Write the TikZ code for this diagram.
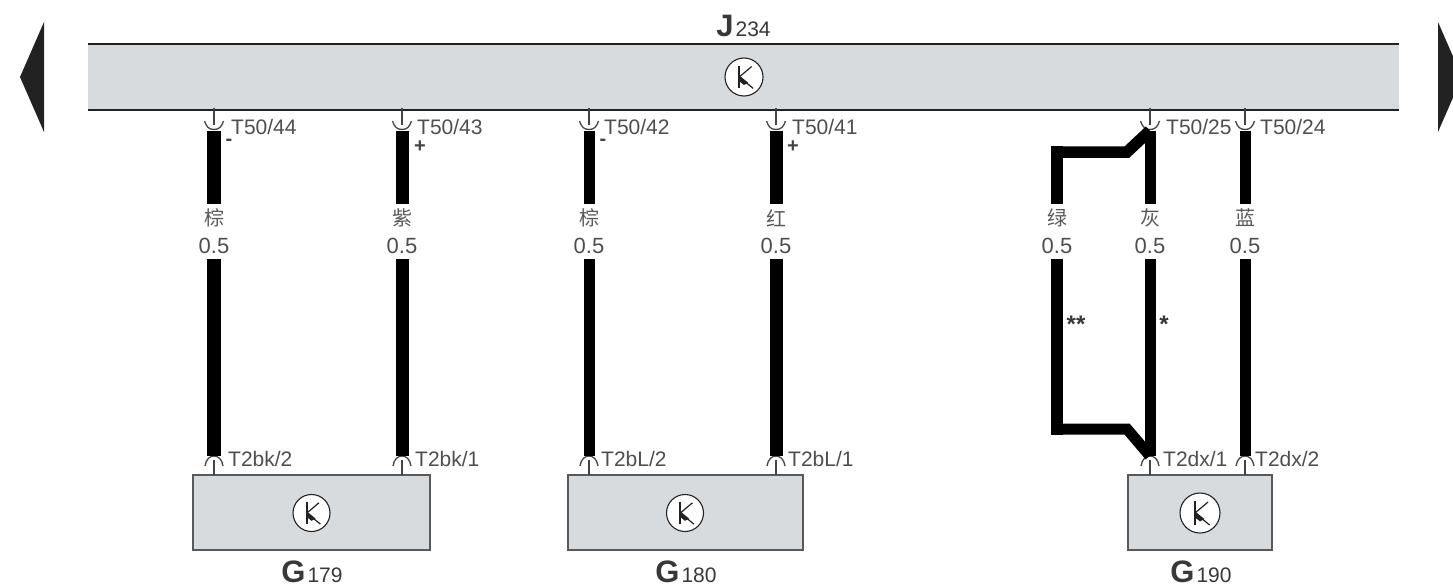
\documentclass[tikz,border=0pt]{standalone}
\usepackage{fontspec}
\setmainfont{Liberation Sans}
\newfontfamily\cjk{Noto Sans CJK SC}
\definecolor{boxgray}{HTML}{D8DBDE}
\definecolor{ink}{HTML}{222222}
\tikzset{
  x=1pt,y=-1pt,
  unitbox/.style={draw=ink!75,line width=2pt,fill=boxgray},
  barline/.style={draw=ink,line width=1.7pt},
  wirea/.style={line width=#1,draw=black},
  pinline/.style={draw=ink!85,line width=1.3pt},
  pinlabel/.style={font=\fontsize{21}{21}\selectfont,text=ink!80,anchor=west,inner sep=0pt},
  colorlabel/.style={font=\cjk\fontsize{20}{20}\selectfont,text=ink!75,inner sep=0pt},
  sizelabel/.style={font=\fontsize{22}{22}\selectfont,text=ink!80,inner sep=0pt},
  signlabel/.style={font=\fontsize{20}{20}\selectfont\bfseries,text=ink!85,inner sep=0pt},
  starlabel/.style={font=\fontsize{24}{24}\selectfont\bfseries,text=ink!90,inner sep=0pt},
  bigname/.style={font=\fontsize{31}{31}\selectfont\bfseries,text=ink!90,inner sep=0pt},
  pt/.style={inner sep=0pt,minimum size=0pt},
  pics/sensor/.style={code={
    \draw[ink,line width=1.1pt,fill=white] (0,0) circle (#1);
    \draw[ink,line width=1.8pt] (-0.25*#1,-0.58*#1) -- (-0.25*#1,0.58*#1);
    \draw[ink,line width=1.2pt] (-0.25*#1,0) -- (0.40*#1,-0.55*#1);
    \draw[ink,line width=1.2pt] (-0.25*#1,0) -- (0.48*#1,0.60*#1);
    \fill[ink] (-0.25*#1,-0.08*#1) -- (0.22*#1,0.30*#1) -- (0.0*#1,0.42*#1) -- (-0.25*#1,0.22*#1) -- cycle;
  }},
}
\newcommand{\toppin}[2]{%
  \node[pt] (t#1) at (#2,130.5) {};
  \draw[pinline] (#2,108) -- (#2,125);
  \draw[pinline] (#2-9.5,121) .. controls (#2-7.5,127) and (#2-5,129.5) .. (#2,129.5) .. controls (#2+5,129.5) and (#2+7.5,127) .. (#2+9.5,121);
}
\newcommand{\botpin}[2]{%
  \node[pt] (b#1) at (#2,456) {};
  \draw[pinline] (#2,460) -- (#2,475);
  \draw[pinline] (#2-9,466) .. controls (#2-8,459) and (#2-4,456) .. (#2,456) .. controls (#2+4,456) and (#2+8,459) .. (#2+9,466);
}
\begin{document}
\begin{tikzpicture}
\useasboundingbox (0,0) rectangle (1453,587);
\clip (0,0) rectangle (1453,587);

% side arrows
\fill[ink] (44,22) -- (20,77) -- (44,132) -- cycle;
\fill[ink] (1438,22) -- (1462,77) -- (1438,132) -- cycle;

% main unit
\fill[boxgray] (88,44) rectangle (1399,110);
\draw[barline] (88,44) -- (1399,44);
\draw[barline] (88,110) -- (1399,110);
\node[bigname,anchor=base] (jname) at (743.5,36) {J\hspace{2pt}\fontsize{21}{21}\selectfont\mdseries 234};
\pic at (744,77) {sensor=19};

% sensor units
\node[unitbox,minimum width=237pt,minimum height=75pt,inner sep=0pt] (g179) at (311.5,512.5) {};
\node[unitbox,minimum width=235pt,minimum height=75pt,inner sep=0pt] (g180) at (685.5,512.5) {};
\node[unitbox,minimum width=144pt,minimum height=75pt,inner sep=0pt] (g190) at (1200,512.5) {};
\pic at (311.5,513) {sensor=18.5};
\pic at (685,513) {sensor=18.5};
\pic at (1200,513) {sensor=20};

\node[bigname,anchor=base] (n179) at (312,582) {G\hspace{2pt}\fontsize{21}{21}\selectfont\mdseries 179};
\node[bigname,anchor=base] (n180) at (686,582) {G\hspace{2pt}\fontsize{21}{21}\selectfont\mdseries 180};
\node[bigname,anchor=base] (n190) at (1201,582) {G\hspace{2pt}\fontsize{21}{21}\selectfont\mdseries 190};

% pins
\toppin{a}{214} \toppin{b}{402} \toppin{c}{589} \toppin{d}{776} \toppin{e}{1150} \toppin{f}{1245}
\botpin{a}{214} \botpin{b}{402} \botpin{c}{589} \botpin{d}{776} \botpin{e}{1150} \botpin{f}{1245}

% wire labels (mid nodes)
\node[colorlabel] (ca) at (214,218) {棕};
\node[colorlabel] (cb) at (402,218) {紫};
\node[colorlabel] (cc) at (589,218) {棕};
\node[colorlabel] (cd) at (776,218) {红};
\node[colorlabel] (cg) at (1057,218) {绿};
\node[colorlabel] (ce) at (1150,218) {灰};
\node[colorlabel] (cf) at (1245,218) {蓝};
\node[sizelabel] (sa) at (214,246) {0.5};
\node[sizelabel] (sb) at (402,246) {0.5};
\node[sizelabel] (sc) at (589,246) {0.5};
\node[sizelabel] (sd) at (776,246) {0.5};
\node[sizelabel] (sg) at (1057,246) {0.5};
\node[sizelabel] (se) at (1150,246) {0.5};
\node[sizelabel] (sf) at (1245,246) {0.5};

% wires
\coordinate (ca1) at (214,204); \coordinate (sa1) at (214,259);
\coordinate (cb1) at (402,204); \coordinate (sb1) at (402,259);
\coordinate (cc1) at (589,204); \coordinate (sc1) at (589,259);
\coordinate (cd1) at (776,204); \coordinate (sd1) at (776,259);
\coordinate (ce1) at (1150,204); \coordinate (se1) at (1150,259);
\coordinate (cf1) at (1245,204); \coordinate (sf1) at (1245,259);
\coordinate (cg1) at (1057,204); \coordinate (sg1) at (1057,259);
\draw[wirea=13.5pt] (ta) -- (ca1) (sa1) -- (ba);
\draw[wirea=13pt] (tb) -- (cb1) (sb1) -- (bb);
\draw[wirea=11pt] (tc) -- (cc1) (sc1) -- (bc);
\draw[wirea=13pt] (td) -- (cd1) (sd1) -- (bd);
\draw[wirea=11pt] (te) -- (ce1) (se1) -- (be);
\draw[wirea=11pt] (tf) -- (cf1) (sf1) -- (bf);
\coordinate (upc) at (1057,152);
\coordinate (upk) at (1127,152);
\coordinate (lowc) at (1057,429);
\coordinate (lowk) at (1127,429);
\draw[wirea=11.5pt,line join=miter] (te) -- (upk) -- (upc);
\draw[wirea=12pt] (cg1) -- (1057,146);
\draw[wirea=12pt] (sg1) -- (1057,435);
\draw[wirea=11pt,line join=miter] (be) -- (lowk) -- (lowc);

% pin labels
\node[pinlabel] (la) at (231,127) {T50/44};
\node[pinlabel] (lb) at (417,127) {T50/43};
\node[pinlabel] (lc) at (604,127) {T50/42};
\node[pinlabel] (ld) at (792,127) {T50/41};
\node[pinlabel] (le) at (1166,127) {T50/25};
\node[pinlabel] (lf) at (1260,127) {T50/24};
\node[pinlabel] (ma) at (228,459) {T2bk/2};
\node[pinlabel] (mb) at (415,459) {T2bk/1};
\node[pinlabel] (mc) at (601,459) {T2bL/2};
\node[pinlabel] (md) at (788,459) {T2bL/1};
\node[pinlabel] (me) at (1163,459) {T2dx/1};
\node[pinlabel] (mf) at (1255,459) {T2dx/2};

% polarity and notes
\node[signlabel] (pa) at (229,142) {-};
\node[signlabel] (pb) at (420,147) {+};
\node[signlabel] (pc) at (603,142) {-};
\node[signlabel] (pd) at (793,147) {+};
\node[starlabel] (na) at (1076,324) {**};
\node[starlabel] (nb) at (1164,324) {*};
\end{tikzpicture}
\end{document}
